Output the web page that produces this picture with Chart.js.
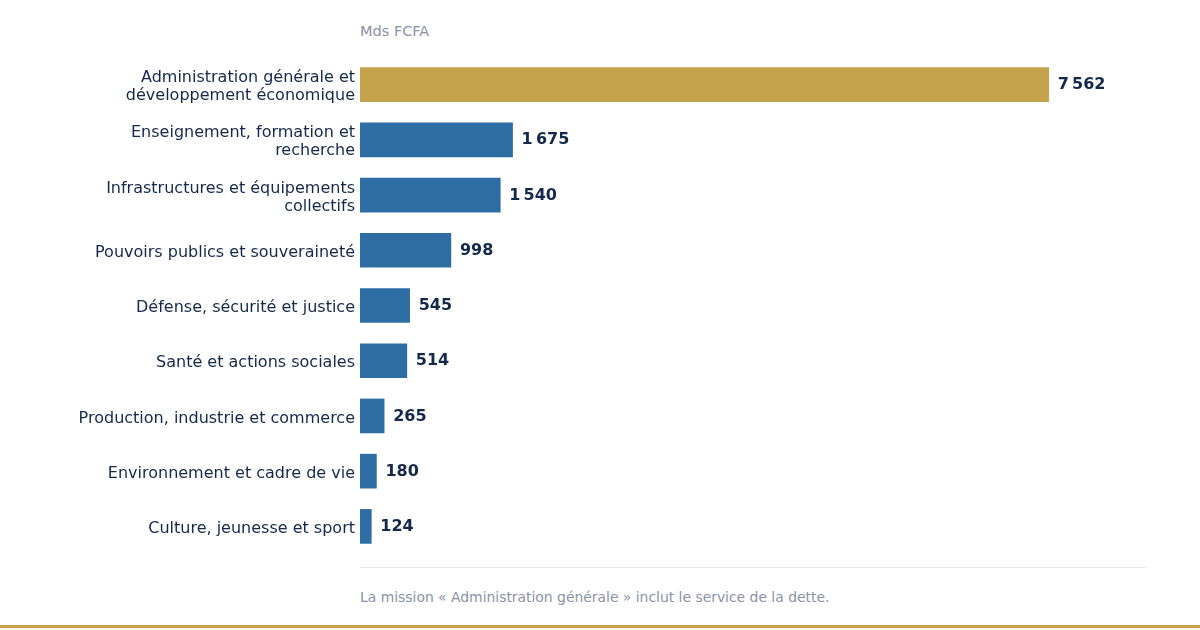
<!DOCTYPE html>
<html>
<head>
<meta charset="utf-8">
<script src="https://cdn.jsdelivr.net/npm/chart.js@4/dist/chart.umd.min.js"></script>
<style>
  body { margin: 0; width: 1200px; height: 630px; background: #fff; position: relative; overflow: hidden; font-family: "DejaVu Sans", sans-serif; }
  #unit { position: absolute; left: 360px; top: 23px; font-size: 14.5px; color: #8a93a6; }
  #wrap { position: absolute; left: 0; top: 57px; width: 1146px; height: 497px; }
  #sep { position: absolute; left: 360px; top: 567px; width: 786px; height: 1px; background: #e6e8ec; }
  #note { position: absolute; left: 360px; top: 589px; font-size: 13.9px; color: #8a93a6; }
  #gold { position: absolute; left: 0; top: 625px; width: 1200px; height: 3px; background: #c5a24b; }
</style>
</head>
<body>
<div id="unit">Mds FCFA</div>
<div id="wrap"><canvas id="barchart"></canvas></div>
<div id="sep"></div>
<div id="note">La mission « Administration générale » inclut le service de la dette.</div>
<div id="gold"></div>
<script>
const missions = [
  ["Administration générale et", "développement économique"],
  ["Enseignement, formation et", "recherche"],
  ["Infrastructures et équipements", "collectifs"],
  "Pouvoirs publics et souveraineté",
  "Défense, sécurité et justice",
  "Santé et actions sociales",
  "Production, industrie et commerce",
  "Environnement et cadre de vie",
  "Culture, jeunesse et sport"
];
const budget = [7562, 1675, 1540, 998, 545, 514, 265, 180, 124];
const colors = budget.map((v, i) => (i === 0 ? "#c5a24b" : "#2e6da4"));

const valueLabels = {
  id: "valueLabels",
  afterDatasetsDraw(chart) {
    const ctx = chart.ctx;
    const meta = chart.getDatasetMeta(0);
    ctx.save();
    ctx.font = "bold 16px 'DejaVu Sans'";
    ctx.fillStyle = "#13294b";
    ctx.textBaseline = "middle";
    meta.data.forEach((bar, i) => {
      const txt = budget[i].toLocaleString("fr-FR");
      ctx.fillText(txt, bar.x + 9, bar.y + 0.5);
    });
    ctx.restore();
  }
};

new Chart(document.getElementById("barchart"), {
  type: "bar",
  data: {
    labels: missions,
    datasets: [
      {
        data: budget,
        backgroundColor: colors,
        barThickness: 34,
        borderWidth: 0
      }
    ]
  },
  options: {
    indexAxis: "y",
    responsive: true,
    maintainAspectRatio: false,
    animation: false,
    layout: { padding: 0 },
    plugins: {
      legend: { display: false },
      tooltip: { enabled: false }
    },
    scales: {
      x: {
        display: false,
        min: 0,
        max: 8630
      },
      y: {
        afterFit(axis) {
          axis.width = 360;
          axis.paddingTop = 0;
          axis.paddingBottom = 0;
          // nudge the labels down a little so they sit on the bar centre
          if (!axis._nudged) {
            const draw = axis.drawLabels;
            axis.drawLabels = function (area) {
              this.ctx.save();
              this.ctx.translate(0, 2.5);
              draw.call(this, area);
              this.ctx.restore();
            };
            axis._nudged = true;
          }
        },
        grid: { display: false, drawTicks: false },
        border: { display: false },
        ticks: {
          color: "#13294b",
          padding: 5,
          font: { family: "DejaVu Sans", size: 16, lineHeight: 1.125 }
        }
      }
    }
  },
  plugins: [valueLabels]
});
</script>
</body>
</html>
